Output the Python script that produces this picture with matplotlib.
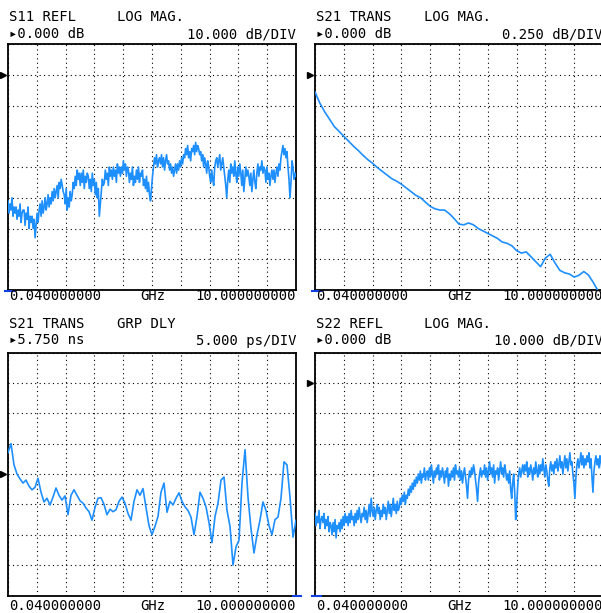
import numpy as np
import matplotlib
matplotlib.use("Agg")
import matplotlib.pyplot as plt
from matplotlib.transforms import blended_transform_factory

W, H = 601, 613

# ---- stimulus ----
F_START, F_STOP = 0.04, 10.0
start_label = "0.040000000"
stop_label = "10.000000000"
unit_label = "GHz"

# ---- channel header texts ----
titles = ["S11 REFL", "S21 TRANS", "S21 TRANS", "S22 REFL"]
formats = ["LOG MAG.", "LOG MAG.", "GRP DLY", "LOG MAG."]
ref_labels = ["\u25b80.000 dB", "\u25b80.000 dB", "\u25b85.750 ns", "\u25b80.000 dB"]
scale_labels = ["10.000 dB/DIV", "0.250 dB/DIV", "5.000 ps/DIV", "10.000 dB/DIV"]
ref_values = [0.0, 0.0, 5750.0, 0.0]      # dB, dB, ps, dB
scale_per_div = [10.0, 0.25, 5.0, 10.0]
ref_div = [7, 7, 4, 7]                     # reference line position (divisions from bottom)

# ---- traces ----
s11_db = [-41, -45, -42, -44, -40, -46, -43, -45,
          -43, -47, -44, -46, -42, -48, -45, -44,
          -44, -49, -45, -47, -43, -50, -46, -48,
          -46, -50, -47, -53, -49, -45, -48, -44,
          -42, -46, -41, -45, -43, -40, -44, -42,
          -39, -43, -40, -42, -38, -41, -37, -40,
          -38, -36, -40, -35, -37, -34, -36, -38,
          -39, -42, -37, -44, -40, -43, -38, -41,
          -39, -35, -37, -33, -36, -31, -34, -32,
          -36, -32, -35, -31, -37, -33, -35, -32,
          -33, -37, -34, -38, -32, -36, -34, -39,
          -35, -40, -37, -46, -42, -38, -34, -36,
          -35, -31, -34, -32, -36, -30, -33, -31,
          -34, -30, -33, -31, -35, -29, -32, -30,
          -33, -30, -32, -28, -31, -29, -33, -30,
          -31, -35, -32, -34, -30, -36, -33, -35,
          -31, -34, -30, -35, -32, -33, -31, -36,
          -34, -37, -33, -38, -35, -39, -41, -37,
          -33, -30, -27, -29, -26, -30, -28, -27,
          -29, -26, -30, -27, -31, -28, -26, -29,
          -28, -31, -29, -32, -30, -33, -31, -29,
          -32, -29, -31, -28, -30, -27, -29, -26,
          -27, -24, -26, -23, -27, -25, -28, -24,
          -25, -23, -26, -22, -25, -23, -24, -26,
          -25, -28, -26, -30, -27, -29, -32, -28,
          -30, -33, -35, -31, -34, -36, -30, -28,
          -27, -30, -28, -26, -31, -29, -27, -30,
          -33, -36, -40, -34, -31, -35, -29, -32,
          -30, -33, -28, -32, -35, -30, -33, -29,
          -32, -36, -31, -38, -34, -30, -33, -31,
          -33, -36, -32, -38, -34, -31, -35, -37,
          -32, -29, -33, -30, -31, -28, -32, -30,
          -31, -35, -30, -34, -32, -36, -33, -31,
          -34, -31, -35, -32, -30, -33, -29, -31,
          -27, -25, -23, -26, -24, -27, -25, -30,
          -34, -40, -35, -28, -30, -34, -32, -33]

s21_db = [-0.14, -0.23, -0.30, -0.36, -0.42, -0.46, -0.50, -0.54, -0.58, -0.615,
          -0.655, -0.69, -0.72, -0.755, -0.785, -0.815, -0.845, -0.865, -0.89, -0.92,
          -0.95, -0.98, -1.00, -1.035, -1.07, -1.09, -1.10, -1.10, -1.13, -1.17,
          -1.215, -1.22, -1.205, -1.22, -1.25, -1.27, -1.29, -1.31, -1.33, -1.36,
          -1.37, -1.39, -1.43, -1.45, -1.44, -1.48, -1.52, -1.56, -1.49, -1.46,
          -1.53, -1.59, -1.61, -1.62, -1.645, -1.63, -1.60, -1.63, -1.69, -1.76,
          -1.82]

grp_delay_ps = [5753.5, 5755.0, 5751.5, 5750.0, 5749.2, 5748.5, 5749.0, 5748.0, 5747.4, 5747.8,
                5749.3, 5747.0, 5745.4, 5746.0, 5744.9, 5746.2, 5747.7, 5746.5, 5745.7, 5746.4,
                5743.3, 5746.5, 5747.4, 5746.5, 5745.6, 5745.2, 5744.4, 5743.8, 5742.4, 5744.5,
                5746.0, 5746.1, 5745.0, 5743.3, 5744.2, 5743.8, 5744.1, 5745.5, 5746.2, 5745.2,
                5743.5, 5742.4, 5745.5, 5747.4, 5746.5, 5747.6, 5744.5, 5741.5, 5740.0, 5741.4,
                5743.0, 5747.0, 5748.5, 5743.7, 5745.5, 5744.9, 5746.0, 5746.9, 5745.5, 5744.6,
                5744.0, 5742.9, 5740.0, 5743.0, 5747.0, 5746.0, 5744.6, 5742.0, 5738.7, 5743.0,
                5745.2, 5749.0, 5749.5, 5744.0, 5741.4, 5735.0, 5738.0, 5739.1, 5748.5, 5754.0,
                5746.2, 5741.0, 5737.0, 5740.0, 5742.4, 5745.4, 5744.0, 5741.5, 5740.0, 5742.5,
                5742.9, 5746.0, 5752.0, 5751.5, 5746.2, 5739.6, 5742.4]

s22_db = [-43, -47, -44, -46, -42, -48, -45, -44,
          -46, -43, -48, -45, -47, -44, -49, -46,
          -47, -50, -46, -49, -45, -51, -47, -48,
          -46, -49, -45, -48, -44, -47, -43, -46,
          -44, -47, -43, -46, -42, -45, -44, -47,
          -43, -46, -42, -45, -41, -44, -46, -43,
          -44, -41, -45, -42, -46, -43, -40, -44,
          -38, -42, -44, -41, -45, -42, -40, -43,
          -41, -45, -42, -44, -40, -43, -41, -45,
          -42, -39, -43, -40, -44, -41, -38, -42,
          -40, -43, -39, -42, -41, -38, -40, -37,
          -39, -36, -40, -37, -38, -35, -37, -34,
          -36, -33, -35, -32, -34, -31, -33, -30,
          -32, -29, -33, -30, -31, -28, -32, -30,
          -29, -32, -28, -31, -27, -30, -33, -29,
          -31, -28, -30, -27, -32, -29, -31, -28,
          -30, -33, -29, -31, -28, -34, -30, -32,
          -29, -31, -28, -32, -27, -30, -29, -31,
          -28, -32, -29, -33, -30, -28, -31, -34,
          -38, -32, -29, -31, -28, -30, -27, -29,
          -32, -35, -39, -33, -30, -28, -31, -29,
          -30, -27, -31, -28, -32, -29, -26, -30,
          -28, -31, -27, -33, -29, -30, -28, -32,
          -29, -26, -30, -28, -31, -27, -29, -32,
          -30, -33, -29, -35, -38, -33, -30, -36,
          -45, -40, -34, -30, -28, -31, -29, -27,
          -30, -27, -29, -26, -31, -28, -30, -27,
          -29, -32, -28, -30, -26, -29, -31, -27,
          -30, -27, -29, -25, -28, -31, -27, -29,
          -32, -34, -28, -26, -29, -27, -30, -26,
          -28, -25, -29, -27, -24, -28, -26, -30,
          -27, -24, -28, -25, -29, -26, -23, -27,
          -26, -30, -33, -38, -31, -27, -25, -28,
          -26, -23, -27, -24, -28, -25, -27, -24,
          -26, -23, -28, -25, -31, -36, -29, -26,
          -24, -27, -25, -28, -24, -26, -29, -25]

traces = [s11_db, s21_db, grp_delay_ps, s22_db]

# ---- layout in pixels: left, top, right, bottom ----
rects = [(8, 44, 296, 290), (315, 44, 603, 290),
         (8, 352.5, 296, 595.5), (315, 352.5, 603, 595.5)]
row1 = [21, 21, 327.5, 327.5]
row2 = [38.5, 38.5, 344.5, 344.5]
row3 = [299.5, 299.5, 610, 610]
stim_mark_side = ["left", "left", "right", "left"]

TRACE = "#1E8FFF"
FONT = ["DejaVu Sans Mono", "DejaVu Sans"]
FS = 10

fig = plt.figure(figsize=(W / 100, H / 100), dpi=100)
fig.patch.set_facecolor("white")


def fx(px):
    return px / W


def fy(py):
    return 1 - py / H


for k in range(4):
    l, t, r, b = rects[k]
    ax = fig.add_axes([fx(l), fy(b), (r - l) / W, (b - t) / H])
    lo = ref_values[k] - ref_div[k] * scale_per_div[k]
    hi = lo + 8 * scale_per_div[k]
    freq = np.linspace(F_START, F_STOP, len(traces[k]))
    ax.plot(freq, traces[k], color=TRACE, lw=1.2, zorder=3)
    ax.set_xlim(F_START, F_STOP)
    ax.set_ylim(lo, hi)
    ax.set_xticks(np.linspace(F_START, F_STOP, 11))
    ax.set_yticks(np.linspace(lo, hi, 9))
    ax.tick_params(length=0, labelbottom=False, labelleft=False)
    ax.grid(True, color="black", lw=0.8, linestyle=(0, (1, 3)))
    for s in ax.spines.values():
        s.set_linewidth(1.3)
        s.set_color("black")

    # reference-position marker
    tr = blended_transform_factory(ax.transAxes, ax.transData)
    ax.plot([-5.0 / (r - l)], [ref_values[k]], marker=">", color="black",
            markersize=5, transform=tr, clip_on=False)

    # stimulus marker (short blue bar at frame corner)
    if stim_mark_side[k] == "left":
        xs = [fx(l - 3), fx(l + 6)]
    else:
        xs = [fx(r - 3), fx(r + 5)]
    fig.add_artist(plt.Line2D(xs, [fy(b + 0.8), fy(b + 0.8)], color="#1040E0", lw=1.5))

    # texts
    fig.text(fx(l + 1), fy(row1[k]), titles[k], family=FONT, size=FS, va="baseline")
    fig.text(fx(l + 109), fy(row1[k]), formats[k], family=FONT, size=FS, va="baseline")
    fig.text(fx(l + 1), fy(row2[k]), ref_labels[k], family=FONT, size=FS, va="baseline")
    fig.text(fx(r), fy(row2[k]), scale_labels[k], family=FONT, size=FS, va="baseline", ha="right")
    fig.text(fx(l + 1), fy(row3[k]), start_label, family=FONT, size=FS, va="baseline")
    fig.text(fx(l + 132), fy(row3[k]), unit_label, family=FONT, size=FS, va="baseline")
    fig.text(fx(r), fy(row3[k]), stop_label, family=FONT, size=FS, va="baseline", ha="right")

fig.savefig("out.png", dpi=100)
